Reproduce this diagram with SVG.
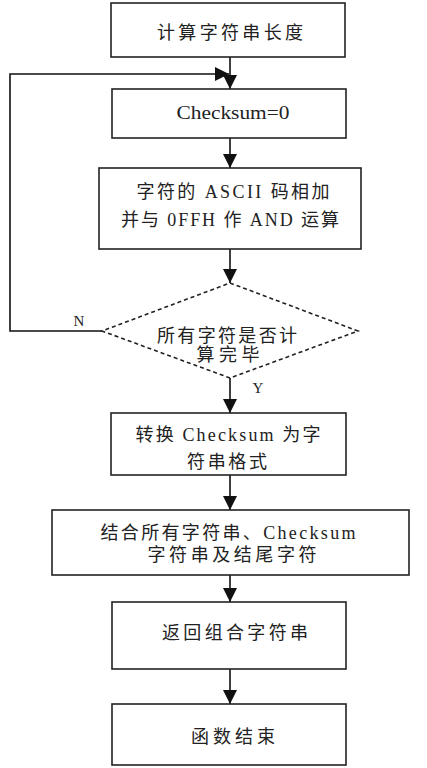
<svg xmlns="http://www.w3.org/2000/svg" width="427" height="768" viewBox="0 0 427 768">
<style>
.box{fill:#fff;stroke:#222;stroke-width:1.6}
.dia{fill:#fff;stroke:#222;stroke-width:1.6;stroke-dasharray:4 3}
.ln{fill:none;stroke:#111;stroke-width:1.6}
.t{font-family:"Liberation Serif","Noto Sans CJK SC",serif;font-size:18px;fill:#222;text-anchor:middle}
.lbl{font-family:"Liberation Serif",serif;font-size:15px;fill:#222;text-anchor:middle}
</style>
<defs>
<marker id="ahb" viewBox="0 0 10 10" refX="10" refY="5" markerWidth="14" markerHeight="14" markerUnits="userSpaceOnUse" orient="auto">
<path d="M0,0 L10,5 L0,10 z" fill="#111"/>
</marker>
</defs>
<g id="connectors">
<line class="ln" x1="230" y1="57" x2="230" y2="89" marker-end="url(#ahb)"/>
<line class="ln" x1="230" y1="138" x2="230" y2="168" marker-end="url(#ahb)"/>
<line class="ln" x1="230" y1="249" x2="230" y2="283" marker-end="url(#ahb)"/>
<line class="ln" x1="230" y1="378" x2="230" y2="413" marker-end="url(#ahb)"/>
<line class="ln" x1="230" y1="475" x2="230" y2="510" marker-end="url(#ahb)"/>
<line class="ln" x1="230" y1="575" x2="230" y2="602" marker-end="url(#ahb)"/>
<line class="ln" x1="230" y1="669" x2="230" y2="704" marker-end="url(#ahb)"/>
<polyline class="ln" points="102,331 10,331 10,74 229,74" marker-end="url(#ahb)"/>
<text class="lbl" x="79" y="326">N</text>
<text class="lbl" x="258" y="393">Y</text>
</g>
<g id="n1"><rect class="box" x="111" y="3" width="234" height="54"/><text class="t" x="230" y="39" textLength="146" lengthAdjust="spacing">计算字符串长度</text></g>
<g id="n2"><rect class="box" x="112" y="89" width="234" height="49"/><text class="t" x="233" y="119" textLength="113" lengthAdjust="spacingAndGlyphs">Checksum=0</text></g>
<g id="n3"><rect class="box" x="99" y="168" width="262" height="81"/><text class="t" x="233" y="198" textLength="193" lengthAdjust="spacing">字符的 ASCII 码相加</text><text class="t" x="230" y="226" textLength="218" lengthAdjust="spacing">并与 0FFH 作 AND 运算</text></g>
<g id="n4"><polygon class="dia" points="230,283 358,331 230,378 102,331"/><text class="t" x="227" y="342" textLength="140" lengthAdjust="spacing">所有字符是否计</text><text class="t" x="228" y="361" textLength="63" lengthAdjust="spacing">算完毕</text></g>
<g id="n5"><rect class="box" x="111" y="413" width="235" height="62"/><text class="t" x="228" y="441" textLength="185" lengthAdjust="spacing">转换 Checksum 为字</text><text class="t" x="227" y="468" textLength="80" lengthAdjust="spacing">符串格式</text></g>
<g id="n6"><rect class="box" x="52" y="510" width="357" height="65"/><text class="t" x="228" y="539" textLength="255" lengthAdjust="spacing">结合所有字符串、Checksum</text><text class="t" x="232" y="561" textLength="169" lengthAdjust="spacing">字符串及结尾字符</text></g>
<g id="n7"><rect class="box" x="112" y="602" width="234" height="67"/><text class="t" x="235" y="639" textLength="146" lengthAdjust="spacing">返回组合字符串</text></g>
<g id="n8"><rect class="box" x="112" y="704" width="234" height="61"/><text class="t" x="233" y="743" textLength="84" lengthAdjust="spacing">函数结束</text></g>
</svg>
